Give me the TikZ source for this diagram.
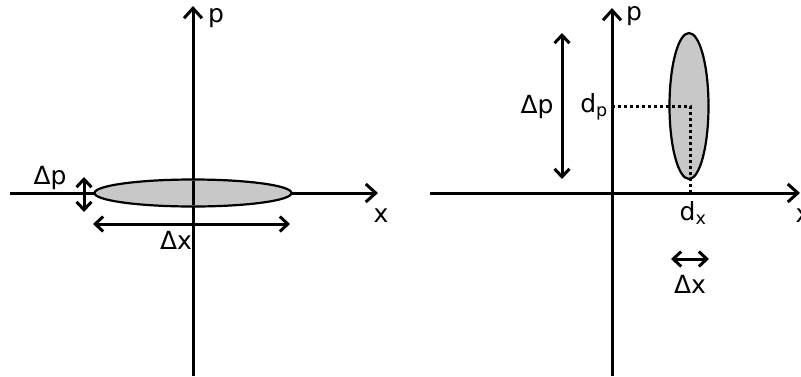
\documentclass[tikz,border=0pt]{standalone}
\usepackage{fontspec}
\setmainfont{DejaVu Sans}
\usetikzlibrary{arrows.meta,shapes.geometric}
\definecolor{blobgray}{HTML}{C8C8C8}

\begin{document}
\begin{tikzpicture}[x=1pt, y=-1pt,
  axis/.style={line width=3pt, -{Straight Barb[length=10pt, width=18pt, line width=3pt]}},
  span/.style={line width=3pt, {Straight Barb[length=8pt, width=15pt, line width=3pt]}-{Straight Barb[length=8pt, width=15pt, line width=3pt]}},
  blob/.style={draw=black, line width=2.2pt, fill=blobgray, ellipse, inner sep=0pt},
  guide/.style={line width=3pt, dash pattern=on 3pt off 3pt},
  lbl/.style={font=\fontsize{25}{28}\selectfont, inner sep=0pt}
]
  \useasboundingbox (0,0) rectangle (801,376);

  % left: squeezed in p
  \coordinate (lxa) at (10,193);   \coordinate (lxb) at (378,193);
  \coordinate (lpa) at (193,376);  \coordinate (lpb) at (193,6);
  \draw[axis] (lxa) -- (lxb);
  \draw[axis] (lpa) -- (lpb);
  \node[blob, minimum width=197pt, minimum height=27pt] (lblob) at (193,193) {};
  \draw[line width=3pt] (193,181) -- (193,205);
  \coordinate (ldpa) at (84,177);  \coordinate (ldpb) at (84,212);
  \draw[span] (ldpa) -- (ldpb);
  \coordinate (ldxa) at (93,224);  \coordinate (ldxb) at (290,224);
  \draw[span] (ldxa) -- (ldxb);
  \node[lbl] (lp) at (216,18) {p};
  \node[lbl] (lx) at (381,216) {x};
  \node[lbl] (ldp) at (50,178) {Δp};
  \node[lbl] (ldx) at (176,240) {Δx};

  % right: squeezed in x
  \coordinate (rxa) at (430,193);  \coordinate (rxb) at (800,193);
  \coordinate (rpa) at (612,376);  \coordinate (rpb) at (612,8);
  \draw[axis] (rxa) -- (rxb);
  \draw[axis] (rpa) -- (rpb);
  \node[blob, minimum width=39pt, minimum height=146pt] (rblob) at (689,106) {};
  \coordinate (rdp) at (612,106);  \coordinate (rc) at (690,106);  \coordinate (rdx) at (690,193);
  \draw[guide] (rdp) -- (rc) -- (rdx);
  \coordinate (rdpa) at (562,33);  \coordinate (rdpb) at (562,179);
  \draw[span] (rdpa) -- (rdpb);
  \coordinate (rdxa) at (671,259); \coordinate (rdxb) at (709,259);
  \draw[span] (rdxa) -- (rdxb);
  \node[lbl] (rp) at (634,16) {p};
  \node[lbl] (rx) at (803,216) {x};
  \node[lbl] (rdpl) at (537,107) {Δp};
  \node[lbl] (rdpn) at (594,107) {d\textsubscript{p}};
  \node[lbl] (rdxn) at (693,213) {d\textsubscript{x}};
  \node[lbl] (rdxl) at (690,284) {Δx};
\end{tikzpicture}
\end{document}
